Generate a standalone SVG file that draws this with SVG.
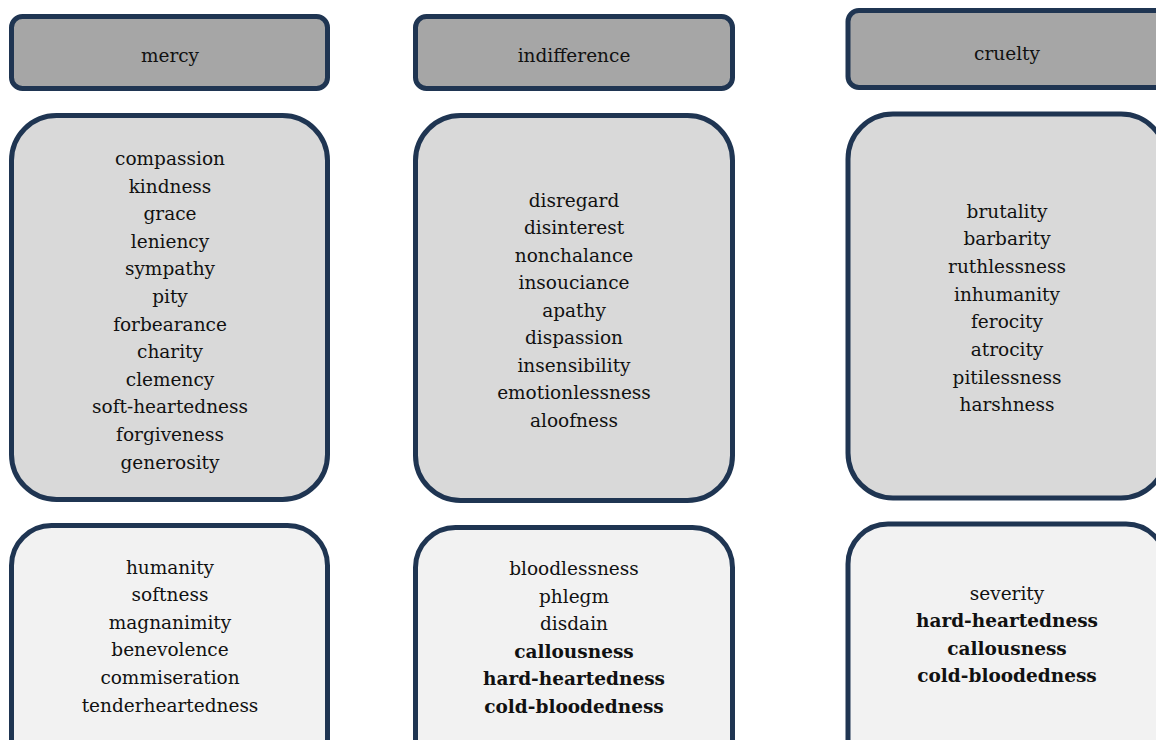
<svg xmlns="http://www.w3.org/2000/svg" width="1156" height="740" viewBox="0 0 1156 740">
<style>
.box{stroke:#1f3552;stroke-width:5}
.hdr{fill:#a6a6a6}
.mid{fill:#d9d9d9}
.bot{fill:#f2f2f2}
text{font-family:"DejaVu Serif","Liberation Serif",serif;font-size:18.5px;fill:#111;text-anchor:middle}
.b{font-weight:bold}
</style>
<rect width="1156" height="740" fill="#ffffff"/>
<g id="mercy-header">
<rect class="box hdr" x="11.5" y="16.5" width="316" height="72" rx="11"/>
<text x="170" y="61.5">mercy</text>
</g>
<g id="indifference-header">
<rect class="box hdr" x="415.5" y="16.5" width="317" height="72" rx="11"/>
<text x="574" y="61.5">indifference</text>
</g>
<g id="cruelty-header">
<rect class="box hdr" x="848" y="10.5" width="318" height="77" rx="11"/>
<text x="1007" y="59.5">cruelty</text>
</g>
<g id="mercy-synonyms">
<rect class="box mid" x="11.5" y="115.5" width="316" height="384" rx="45"/>
<text x="170" y="165">compassion</text>
<text x="170" y="192.6">kindness</text>
<text x="170" y="220.2">grace</text>
<text x="170" y="247.8">leniency</text>
<text x="170" y="275.4">sympathy</text>
<text x="170" y="303">pity</text>
<text x="170" y="330.6">forbearance</text>
<text x="170" y="358.2">charity</text>
<text x="170" y="385.8">clemency</text>
<text x="170" y="413.4">soft-heartedness</text>
<text x="170" y="441">forgiveness</text>
<text x="170" y="468.6">generosity</text>
</g>
<g id="indifference-synonyms">
<rect class="box mid" x="415.5" y="115.5" width="317" height="385" rx="45"/>
<text x="574" y="206.7">disregard</text>
<text x="574" y="234.2">disinterest</text>
<text x="574" y="261.7">nonchalance</text>
<text x="574" y="289.2">insouciance</text>
<text x="574" y="316.7">apathy</text>
<text x="574" y="344.2">dispassion</text>
<text x="574" y="371.7">insensibility</text>
<text x="574" y="399.2">emotionlessness</text>
<text x="574" y="426.7">aloofness</text>
</g>
<g id="cruelty-synonyms">
<rect class="box mid" x="848" y="114" width="318" height="384" rx="45"/>
<text x="1007" y="217.5">brutality</text>
<text x="1007" y="245.2">barbarity</text>
<text x="1007" y="272.9">ruthlessness</text>
<text x="1007" y="300.6">inhumanity</text>
<text x="1007" y="328.3">ferocity</text>
<text x="1007" y="356">atrocity</text>
<text x="1007" y="383.7">pitilessness</text>
<text x="1007" y="411.4">harshness</text>
</g>
<g id="mercy-related">
<rect class="box bot" x="11.5" y="525.5" width="316" height="260" rx="40"/>
<text x="170" y="573.5">humanity</text>
<text x="170" y="601.1">softness</text>
<text x="170" y="628.7">magnanimity</text>
<text x="170" y="656.3">benevolence</text>
<text x="170" y="683.9">commiseration</text>
<text x="170" y="711.5">tenderheartedness</text>
</g>
<g id="indifference-related">
<rect class="box bot" x="415.5" y="527.5" width="317" height="260" rx="40"/>
<text x="574" y="575">bloodlessness</text>
<text x="574" y="602.5">phlegm</text>
<text x="574" y="630">disdain</text>
<text class="b" x="574" y="657.5">callousness</text>
<text class="b" x="574" y="685">hard-heartedness</text>
<text class="b" x="574" y="712.5">cold-bloodedness</text>
</g>
<g id="cruelty-related">
<rect class="box bot" x="848" y="524" width="318" height="260" rx="40"/>
<text x="1007" y="600">severity</text>
<text class="b" x="1007" y="627.3">hard-heartedness</text>
<text class="b" x="1007" y="654.6">callousness</text>
<text class="b" x="1007" y="682">cold-bloodedness</text>
</g>
<g id="connectors"/>
</svg>
